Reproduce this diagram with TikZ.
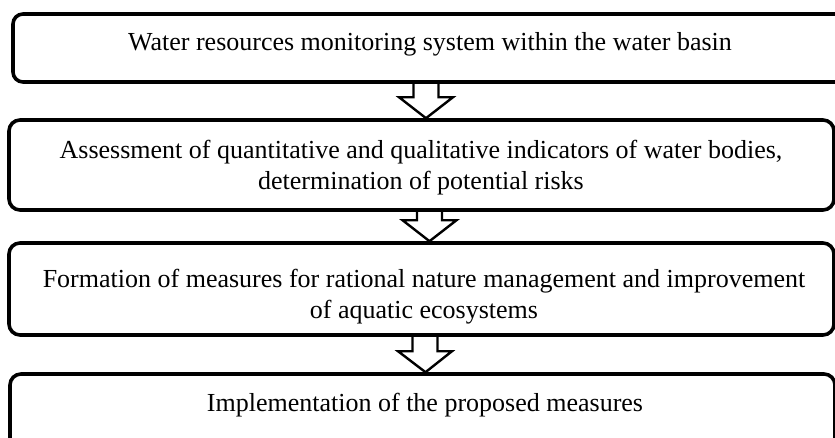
\documentclass[tikz,border=0pt]{standalone}
\usepackage{fontspec}
\setmainfont{Liberation Serif}
\usetikzlibrary{calc}
\begin{document}
\begin{tikzpicture}[x=1pt,y=-1pt,
  box/.style={draw=black, line width=3.6pt, rounded corners=11pt, inner sep=0pt, minimum width=825pt},
  txt/.style={anchor=base, align=center, inner sep=0pt, font=\fontsize{26}{31}\selectfont},
  arr/.style={draw=black, line width=2.4pt, line join=miter}]
\useasboundingbox (0,0) rectangle (835,437);
\newcommand\blockarrow[2]{%
  \draw[arr] let \p1=(#1), \p2=(#2) in
    (\x1-12.5pt,\y1) -- (\x1-12.5pt,\y2+21pt) -- (\x1-27pt,\y2+21pt) -- (\x2,\y2)
    -- (\x1+27pt,\y2+21pt) -- (\x1+12.5pt,\y2+21pt) -- (\x1+12.5pt,\y1);}
% boxes
\node[box, minimum width=837pt, minimum height=68pt, rounded corners=10pt] (b1) at (431.5,48) {};
\node[box, minimum height=90pt] (b2) at (421.5,165) {};
\node[box, minimum height=92pt] (b3) at (421.5,289) {};
\node[box, minimum height=96pt] (b4) at (422.5,422) {};
% texts (base anchor = baseline of the last line)
\node[txt] (t1) at (430,50) {Water resources monitoring system within the water basin};
\node[txt] (t2) at (421,189) {Assessment of quantitative and qualitative indicators of water bodies,\\determination of potential risks};
\node[txt] (t3) at (424,318) {Formation of measures for rational nature management and improvement\\of aquatic ecosystems};
\node[txt] (t4) at (425,411) {Implementation of the proposed measures};
% arrows
\coordinate (a1s) at ($(b1.south)+(-5.5,0)$);
\coordinate (a1e) at ($(b2.north)+(4.5,0)$);
\coordinate (a2s) at ($(b2.south)+(8,0)$);
\coordinate (a2e) at ($(b3.north)+(8,0)$);
\coordinate (a3s) at ($(b3.south)+(3.5,0)$);
\coordinate (a3e) at ($(b4.north)+(3,0)$);
\blockarrow{a1s}{a1e}
\blockarrow{a2s}{a2e}
\blockarrow{a3s}{a3e}
\end{tikzpicture}
\end{document}
